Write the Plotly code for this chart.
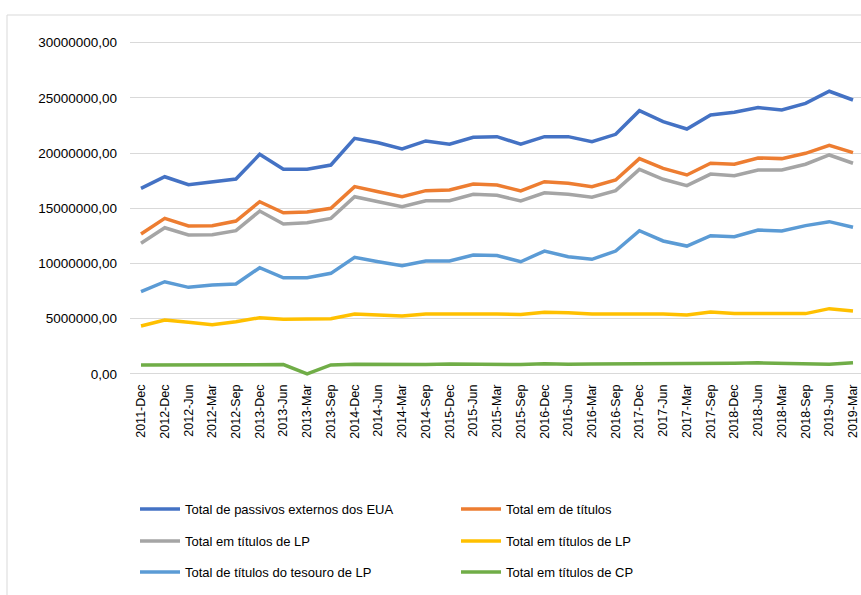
import plotly.graph_objects as go

categories = ["2011-Dec", "2012-Dec", "2012-Jun", "2012-Mar", "2012-Sep", "2013-Dec", "2013-Jun",
              "2013-Mar", "2013-Sep", "2014-Dec", "2014-Jun", "2014-Mar", "2014-Sep", "2015-Dec",
              "2015-Jun", "2015-Mar", "2015-Sep", "2016-Dec", "2016-Jun", "2016-Mar", "2016-Sep",
              "2017-Dec", "2017-Jun", "2017-Mar", "2017-Sep", "2018-Dec", "2018-Jun", "2018-Mar",
              "2018-Sep", "2019-Jun", "2019-Mar"]

passivos = [16.81, 17.86, 17.14, 17.41, 17.65, 19.89, 18.53, 18.53, 18.92, 21.34, 20.94, 20.37, 21.10,
            20.80, 21.43, 21.49, 20.80, 21.49, 21.49, 21.03, 21.70, 23.84, 22.85, 22.18, 23.45, 23.70,
            24.12, 23.90, 24.51, 25.60, 24.81]
titulos = [12.67, 14.09, 13.40, 13.43, 13.85, 15.60, 14.60, 14.66, 15.00, 16.96, 16.50, 16.05, 16.60,
           16.66, 17.20, 17.11, 16.57, 17.41, 17.26, 16.96, 17.56, 19.50, 18.62, 18.02, 19.08, 18.99,
           19.56, 19.50, 19.98, 20.70, 20.04]
titulos_lp_gray = [11.83, 13.24, 12.58, 12.61, 12.97, 14.75, 13.58, 13.70, 14.09, 16.05, 15.60, 15.15,
                   15.69, 15.69, 16.27, 16.18, 15.66, 16.41, 16.27, 16.00, 16.60, 18.53, 17.63, 17.05,
                   18.10, 17.95, 18.47, 18.47, 18.99, 19.83, 19.08]
titulos_lp_yellow = [4.34, 4.88, 4.67, 4.46, 4.73, 5.09, 4.94, 5.00, 5.00, 5.43, 5.36, 5.24, 5.43, 5.40,
                     5.43, 5.43, 5.38, 5.58, 5.55, 5.43, 5.45, 5.43, 5.42, 5.34, 5.60, 5.46, 5.43, 5.46,
                     5.46, 5.91, 5.70]
tesouro_lp = [7.45, 8.35, 7.84, 8.05, 8.14, 9.62, 8.71, 8.71, 9.11, 10.56, 10.16, 9.80, 10.23, 10.23,
              10.77, 10.72, 10.16, 11.13, 10.62, 10.38, 11.13, 12.97, 12.04, 11.58, 12.52, 12.43, 13.03,
              12.94, 13.43, 13.79, 13.28]
titulos_cp = [0.81, 0.81, 0.78, 0.78, 0.84, 0.84, 0.84, 0.00, 0.81, 0.87, 0.84, 0.87, 0.84, 0.90, 0.90,
              0.90, 0.84, 0.93, 0.87, 0.90, 0.90, 0.90, 0.90, 0.90, 0.90, 0.96, 1.00, 0.96, 0.96, 0.87,
              1.00]

series_names = ["Total de passivos externos dos EUA", "Total em de títulos", "Total em títulos de LP",
                "Total em títulos de LP", "Total de títulos do tesouro de LP", "Total em títulos de CP"]
series_values = [passivos, titulos, titulos_lp_gray, titulos_lp_yellow, tesouro_lp, titulos_cp]
colors = ["#4472C4", "#ED7D31", "#A5A5A5", "#FFC000", "#5B9BD5", "#70AD47"]
legend_ids = ["legend", "legend", "legend2", "legend2", "legend3", "legend3"]

y_tickvals = [0, 5000000, 10000000, 15000000, 20000000, 25000000, 30000000]
y_ticktext = ["0,00", "5000000,00", "10000000,00", "15000000,00", "20000000,00", "25000000,00",
              "30000000,00"]

FONT = "Liberation Sans, Arial, sans-serif"

fig = go.Figure()
for name, vals, col, lg in zip(series_names, series_values, colors, legend_ids):
    fig.add_trace(go.Scatter(
        x=list(range(len(categories))),
        y=[v * 1e6 for v in vals],
        mode="lines",
        name=name,
        line=dict(color=col, width=3.5),
        legend=lg,
        hoverinfo="skip",
    ))

# plot area: x 130..861, y 40..377
H_PLOT = 337.0
def py(p):
    return (377 - p) / H_PLOT

leg_common = dict(orientation="h", xanchor="left", yanchor="middle", x=5 / 731,
                  entrywidth=266, entrywidthmode="pixels", itemwidth=40,
                  font=dict(family=FONT, size=13, color="#000000"),
                  bgcolor="rgba(0,0,0,0)", traceorder="normal")

fig.update_layout(
    width=861, height=595,
    margin=dict(l=130, r=0, t=40, b=218),
    paper_bgcolor="white", plot_bgcolor="white",
    font=dict(family=FONT, size=13, color="#000000"),
    xaxis=dict(
        tickmode="array",
        tickvals=list(range(len(categories))),
        ticktext=categories,
        tickangle=-90,
        range=[-0.464, 30.337],
        showgrid=False, zeroline=False, showline=False,
        ticks="", ticklabelstandoff=4, ticklabeloverflow="allow",
        tickfont=dict(family=FONT, size=12.5, color="#000000"),
    ),
    yaxis=dict(
        tickmode="array",
        tickvals=y_tickvals,
        ticktext=y_ticktext,
        range=[-281000, 30245000],
        showgrid=True, gridcolor="#d9d9d9", gridwidth=1,
        zeroline=True, zerolinecolor="#d9d9d9", zerolinewidth=1,
        showline=False, ticks="", ticklabelstandoff=12,
        tickfont=dict(family=FONT, size=13.5, color="#000000"),
    ),
    legend=dict(leg_common, y=py(509)),
    legend2=dict(leg_common, y=py(541)),
    legend3=dict(leg_common, y=py(572)),
    showlegend=True,
    shapes=[dict(type="rect", xref="paper", yref="paper",
                 x0=(7 - 130) / 731, x1=1.02, y0=py(15), y1=py(620),
                 line=dict(color="#d9d9d9", width=1), fillcolor="rgba(0,0,0,0)", layer="below")],
)

fig.write_html("out.html")
